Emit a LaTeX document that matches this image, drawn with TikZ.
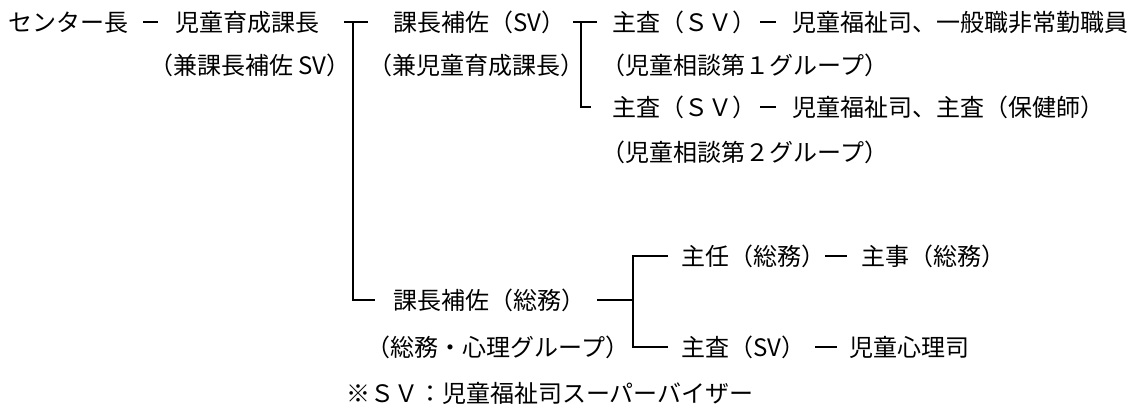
\documentclass[tikz,border=0pt]{standalone}
\usepackage{fontspec}
\setmainfont{Noto Sans CJK JP}
\begin{document}
\begin{tikzpicture}[x=1pt,y=-1pt,
  lbl/.style={inner sep=0pt, outer sep=0pt, font=\fontsize{24pt}{24pt}\selectfont, text height=19.9pt, text depth=1.7pt},
  lw/.style={lbl, anchor=west},
  lc/.style={lbl, anchor=center},
  br/.style={line width=1.8pt, line join=miter},
  dl/.style={line width=1.3pt}]
\useasboundingbox (0,0) rectangle (1131,408);
% nodes
\node[lw] (cl)   at (9,22)    {センター長};
\node[lw] (ik)   at (175,22)  {児童育成課長};
\node[lc] (ik2)  at (250,65)  {（兼課長補佐 SV）};
\node[lw] (hs)   at (393,22)  {課長補佐（SV）};
\node[lc] (hs2)  at (476,65)  {（兼児童育成課長）};
\node[lw] (s1)   at (612,22)  {主査（ＳＶ）};
\node[lw] (s1b)  at (792,22)  {児童福祉司、一般職非常勤職員};
\node[lc] (g1)   at (745,65)  {（児童相談第１グループ）};
\node[lw] (s2)   at (612,107) {主査（ＳＶ）};
\node[lw] (s2b)  at (792,107) {児童福祉司、主査（保健師）};
\node[lc] (g2)   at (745,152) {（児童相談第２グループ）};
\node[lw] (hs3)  at (393,300) {課長補佐（総務）};
\node[lc] (g3)   at (498,347) {（総務・心理グループ）};
\node[lw] (sn)   at (681,256) {主任（総務）};
\node[lw] (snb)  at (861,256) {主事（総務）};
\node[lw] (ss)   at (681,347) {主査（SV）};
\node[lw] (ssb)  at (849,347) {児童心理司};
\node[lw] (note) at (346,393) {※ＳＶ：児童福祉司スーパーバイザー};
% dashes
\draw[dl] ([xshift=14pt]cl.east) -- ([xshift=-17pt]ik.west);
\draw[dl] ([xshift=4pt]s1.east) -- ([xshift=-16pt]s1b.west);
\draw[dl] ([xshift=4pt]s2.east) -- ([xshift=-16pt]s2b.west);
\draw[dl] ([xshift=0pt]sn.east) -- ([xshift=-14pt]snb.west);
\draw[dl] ([xshift=10pt]ss.east) -- ([xshift=-12pt]ssb.west);
% bracket 1
\coordinate (j1) at ([xshift=34pt]ik.east);
\draw[br] ([xshift=25pt]ik.east) -- ([xshift=-25pt]hs.west);
\draw[br] (j1) |- ([xshift=-18pt]hs3.west);
% bracket 2
\coordinate (j2) at ([xshift=-31pt]s1.west);
\draw[br] ([xshift=-39pt]s1.west) -- ([xshift=-15pt]s1.west);
\draw[br] (j2) |- ([xshift=-21pt]s2.west);
% bracket 3
\coordinate (j3) at ([xshift=-48pt]sn.west);
\draw[br] ([xshift=12pt]hs3.east) -- (j3 |- hs3.east);
\draw[br] ([xshift=-13pt]sn.west) -- (j3) -- (j3 |- ss.west) -- ([xshift=-13pt]ss.west);
\end{tikzpicture}
\end{document}
